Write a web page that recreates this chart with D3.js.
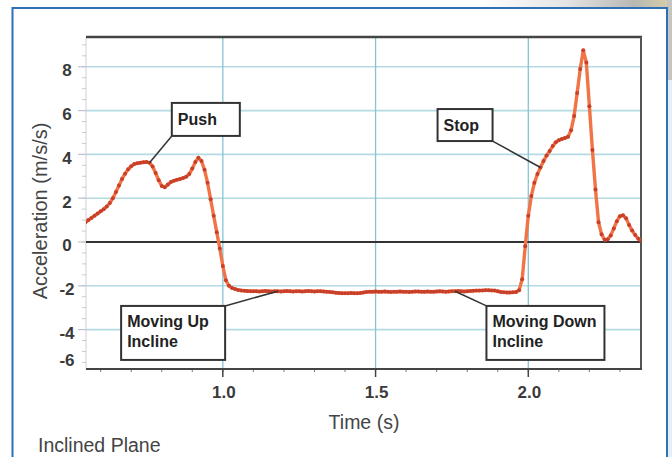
<!DOCTYPE html>
<html><head><meta charset="utf-8">
<script src="https://cdn.jsdelivr.net/npm/d3@7/dist/d3.min.js"></script>
<style>
body{margin:0;background:#fff;}
svg{display:block;font-family:"Liberation Sans",Arial,Helvetica,sans-serif;}
</style>
</head><body><svg id="c" width="672" height="457"></svg>
<script>
// ---- data ----
const timeS = [
0.55,0.56,0.57,0.58,0.59,0.60,0.61,0.62,0.63,0.64,0.65,0.66,0.67,0.68,0.69,0.70,0.71,0.72,0.73,0.74,
0.75,0.76,0.77,0.78,0.79,0.80,0.81,0.82,0.83,0.84,0.85,0.86,0.87,0.88,0.89,0.90,0.91,0.92,0.93,0.94,
0.95,0.96,0.97,0.98,0.99,1.00,1.01,1.02,1.03,1.04,1.05,1.06,1.07,1.08,1.09,1.10,
1.11,1.12,1.13,1.14,1.15,1.16,1.17,1.18,1.19,1.20,1.21,1.22,1.23,1.24,1.25,1.26,1.27,1.28,1.29,1.30,
1.31,1.32,1.33,1.34,1.35,1.36,
1.37,1.38,1.39,1.40,1.41,1.42,1.43,1.44,1.45,1.46,
1.47,1.48,1.49,1.50,1.51,1.52,1.53,1.54,1.55,1.56,1.57,1.58,1.59,1.60,1.61,1.62,1.63,1.64,1.65,1.66,
1.67,1.68,1.69,1.70,1.71,1.72,1.73,1.74,1.75,1.76,1.77,1.78,1.79,1.80,1.81,1.82,1.83,1.84,1.85,1.86,
1.87,1.88,1.89,1.90,
1.91,1.92,1.93,1.94,1.95,1.96,
1.97,1.98,1.99,2.00,2.01,2.02,2.03,2.04,2.05,2.06,2.07,2.08,2.09,2.10,2.11,2.12,2.13,2.14,2.15,2.16,
2.17,2.18,2.19,2.20,2.21,2.22,2.23,2.24,2.25,2.26,2.27,2.28,2.29,2.30,2.31,2.32,2.33,2.34,2.35,2.36,2.37
];
const accel = [
0.90,1.00,1.10,1.20,1.30,1.40,1.50,1.62,1.78,2.00,2.28,2.58,2.88,3.12,3.32,3.46,3.56,3.60,3.62,3.64,
3.65,3.62,3.45,3.15,2.82,2.56,2.50,2.62,2.74,2.80,2.84,2.88,2.92,2.98,3.10,3.35,3.65,3.85,3.70,3.30,
2.70,1.95,1.20,0.45,-0.30,-1.10,-1.75,-2.00,-2.10,-2.15,-2.19,-2.21,-2.23,-2.24,-2.25,-2.25,
-2.25,-2.26,-2.25,-2.24,-2.25,-2.26,-2.25,-2.25,-2.26,-2.25,-2.24,-2.25,-2.26,-2.25,-2.25,-2.26,-2.25,-2.24,-2.25,-2.26,
-2.25,-2.25,-2.26,-2.27,-2.28,-2.30,
-2.32,-2.33,-2.34,-2.34,-2.34,-2.33,-2.34,-2.34,-2.33,-2.31,
-2.28,-2.27,-2.27,-2.26,-2.27,-2.27,-2.26,-2.27,-2.28,-2.27,-2.27,-2.26,-2.27,-2.27,-2.28,-2.27,-2.26,-2.26,-2.27,-2.27,
-2.26,-2.27,-2.27,-2.26,-2.25,-2.26,-2.27,-2.26,-2.25,-2.25,-2.24,-2.25,-2.26,-2.25,-2.24,-2.23,-2.22,-2.22,-2.21,-2.20,
-2.20,-2.21,-2.22,-2.25,
-2.28,-2.30,-2.31,-2.31,-2.30,-2.28,
-2.20,-1.70,-0.20,1.20,2.10,2.70,3.10,3.40,3.70,3.95,4.15,4.38,4.55,4.65,4.70,4.75,4.80,5.10,5.75,6.80,
7.90,8.75,8.20,6.20,4.20,2.40,0.90,0.35,0.10,0.12,0.30,0.62,0.95,1.18,1.22,1.08,0.78,0.52,0.32,0.15,0.05
];
const xTicks = [1.0, 1.5, 2.0];
const xTickLabels = ["1.0", "1.5", "2.0"];
const yTicks = [8, 6, 4, 2, 0, -2, -4, -6];
const yTickLabels = ["8", "6", "4", "2", "0", "-2", "-4", "-6"];
const annotationText = [["Push"], ["Stop"], ["Moving Up", "Incline"], ["Moving Down", "Incline"]];
const annotationTime = [0.76, 2.04, 1.18, 1.76];
const xTitle = "Time (s)";
const yTitle = "Acceleration (m/s/s)";
const caption = "Inclined Plane";

// ---- layout ----
const svg = d3.select("#c");
const L = 86, R = 641, T = 37, B = 369;
const x = d3.scaleLinear().domain([0.552, 2.369]).range([L, R]);
const y = d3.scaleLinear().domain([-5.8, 9.36]).range([B, T]);

// background decoration outside the frame
const defs = svg.append("defs");
const g1 = defs.append("linearGradient").attr("id", "topdeco").attr("x1", 0).attr("x2", 1).attr("y1", 0).attr("y2", 0);
g1.append("stop").attr("offset", "0").attr("stop-color", "#ffffff");
g1.append("stop").attr("offset", "0.45").attr("stop-color", "#e4e4e4");
g1.append("stop").attr("offset", "0.8").attr("stop-color", "#b8b8b4");
g1.append("stop").attr("offset", "1").attr("stop-color", "#d8cfa8");
svg.append("rect").attr("x", 480).attr("y", 0).attr("width", 192).attr("height", 8).attr("fill", "url(#topdeco)");
svg.append("rect").attr("x", 667).attr("y", 0).attr("width", 5).attr("height", 80).attr("fill", "#c4c4c0");
svg.append("rect").attr("x", 667).attr("y", 80).attr("width", 5).attr("height", 377).attr("fill", "#e4eef6");

// blue frame
svg.append("rect").attr("x", 12.5).attr("y", 8).attr("width", 654.5).attr("height", 470)
  .attr("fill", "#ffffff").attr("stroke", "#2f6fb5").attr("stroke-width", 2);

const clipId = "plotclip";
defs.append("clipPath").attr("id", clipId).append("rect")
  .attr("x", L).attr("y", T).attr("width", R - L).attr("height", B - T);

// grid
svg.append("g").selectAll("line").data(yTicks.filter(v => v !== 0 && v > y.domain()[0]))
  .join("line").attr("x1", L).attr("x2", R).attr("y1", d => y(d)).attr("y2", d => y(d))
  .attr("stroke", "#b4dbe3").attr("stroke-width", 1.6);
svg.append("g").selectAll("line").data(xTicks)
  .join("line").attr("x1", d => x(d)).attr("x2", d => x(d)).attr("y1", T).attr("y2", B)
  .attr("stroke", "#86c4d2").attr("stroke-width", 1.3);

// minor ticks
svg.append("g").selectAll("line").data(x.ticks(20))
  .join("line").attr("x1", d => x(d)).attr("x2", d => x(d)).attr("y1", B).attr("y2", B + 3)
  .attr("stroke", "#777").attr("stroke-width", 1);
svg.append("g").selectAll("line").data(xTicks)
  .join("line").attr("x1", d => x(d)).attr("x2", d => x(d)).attr("y1", B).attr("y2", B + 8)
  .attr("stroke", "#444").attr("stroke-width", 1.5);
svg.append("g").selectAll("line").data(y.ticks(30))
  .join("line").attr("x1", L - 4).attr("x2", L).attr("y1", d => y(d)).attr("y2", d => y(d))
  .attr("stroke", "#c9c9d4").attr("stroke-width", 1);
svg.append("g").selectAll("line").data(yTicks.filter(v => v > y.domain()[0]))
  .join("line").attr("x1", L - 8).attr("x2", L).attr("y1", d => y(d)).attr("y2", d => y(d))
  .attr("stroke", "#c0c0cc").attr("stroke-width", 1.2);

// axes / borders
svg.append("line").attr("x1", L).attr("x2", L).attr("y1", T).attr("y2", B).attr("stroke", "#cfcfd8").attr("stroke-width", 1);
svg.append("line").attr("x1", L).attr("x2", R + 1).attr("y1", T).attr("y2", T).attr("stroke", "#444").attr("stroke-width", 2.5);
svg.append("line").attr("x1", R).attr("x2", R).attr("y1", T).attr("y2", B).attr("stroke", "#555").attr("stroke-width", 2);
svg.append("line").attr("x1", L).attr("x2", R + 1).attr("y1", B).attr("y2", B).attr("stroke", "#444").attr("stroke-width", 2);
svg.append("line").attr("x1", L).attr("x2", R).attr("y1", y(0)).attr("y2", y(0)).attr("stroke", "#333").attr("stroke-width", 2);

// tick labels
svg.append("g").selectAll("text").data(yTicks)
  .join("text").attr("x", 67).attr("y", d => Math.min(y(d), B - 13) + 9.5)
  .attr("text-anchor", "middle").attr("font-size", 17).attr("font-weight", "bold").attr("fill", "#3a3a3a")
  .text((d, i) => yTickLabels[i]);
svg.append("g").selectAll("text").data(xTicks)
  .join("text").attr("x", d => x(d) + 1).attr("y", 398)
  .attr("text-anchor", "middle").attr("font-size", 17).attr("font-weight", "bold").attr("fill", "#3a3a3a")
  .text((d, i) => xTickLabels[i]);

// titles
svg.append("text").attr("x", 364).attr("y", 429).attr("text-anchor", "middle")
  .attr("font-size", 19.5).attr("fill", "#444").text(xTitle);
svg.append("text").attr("transform", "translate(47,211) rotate(-90)").attr("text-anchor", "middle")
  .attr("font-size", 20).attr("fill", "#444").text(yTitle);
svg.append("text").attr("x", 38).attr("y", 452).attr("font-size", 19.5).attr("fill", "#444").text(caption);

// data
const pts = timeS.map((t, i) => ({t, a: accel[i]}));
const plot = svg.append("g").attr("clip-path", `url(#${clipId})`);
plot.append("path").datum(pts)
  .attr("d", d3.line().x(d => x(d.t)).y(d => y(d.a)))
  .attr("fill", "none").attr("stroke", "#f27446").attr("stroke-width", 3.4).attr("stroke-linejoin", "round");
plot.append("g").selectAll("circle").data(pts)
  .join("circle").attr("cx", d => x(d.t)).attr("cy", d => y(d.a)).attr("r", 2)
  .attr("fill", "#c9402a");

// annotations
const boxes = [
  {bx: 0.833, by: 6.35, w: 68, h: 33, corner: "bl"},
  {bx: 1.703, by: 6.07, w: 55, h: 32, corner: "br"},
  {bx: 0.667, by: -2.92, w: 104, h: 54, corner: "tr"},
  {bx: 1.863, by: -2.92, w: 118, h: 54, corner: "tl"}
];
annotationText.forEach((lines, i) => {
  const b = boxes[i];
  const bx = x(b.bx), by = y(b.by);
  const idx = timeS.findIndex(t => Math.abs(t - annotationTime[i]) < 0.005);
  const ax = x(timeS[idx]), ay = y(accel[idx]);
  const cx = b.corner.includes("r") ? bx + b.w : bx;
  const cy = b.corner.includes("b") ? by + b.h : by;
  svg.append("line").attr("x1", cx).attr("y1", cy).attr("x2", ax).attr("y2", ay)
    .attr("stroke", "#333").attr("stroke-width", 1.5);
  svg.append("rect").attr("x", bx).attr("y", by).attr("width", b.w).attr("height", b.h)
    .attr("fill", "#fff").attr("stroke", "#333").attr("stroke-width", 2);
  lines.forEach((s, k) => {
    svg.append("text").attr("x", bx + 6).attr("y", by + (lines.length === 1 ? 22 : 21 + k * 20))
      .attr("font-size", 16).attr("font-weight", "bold").attr("fill", "#222").text(s);
  });
});
</script>
</body></html>
